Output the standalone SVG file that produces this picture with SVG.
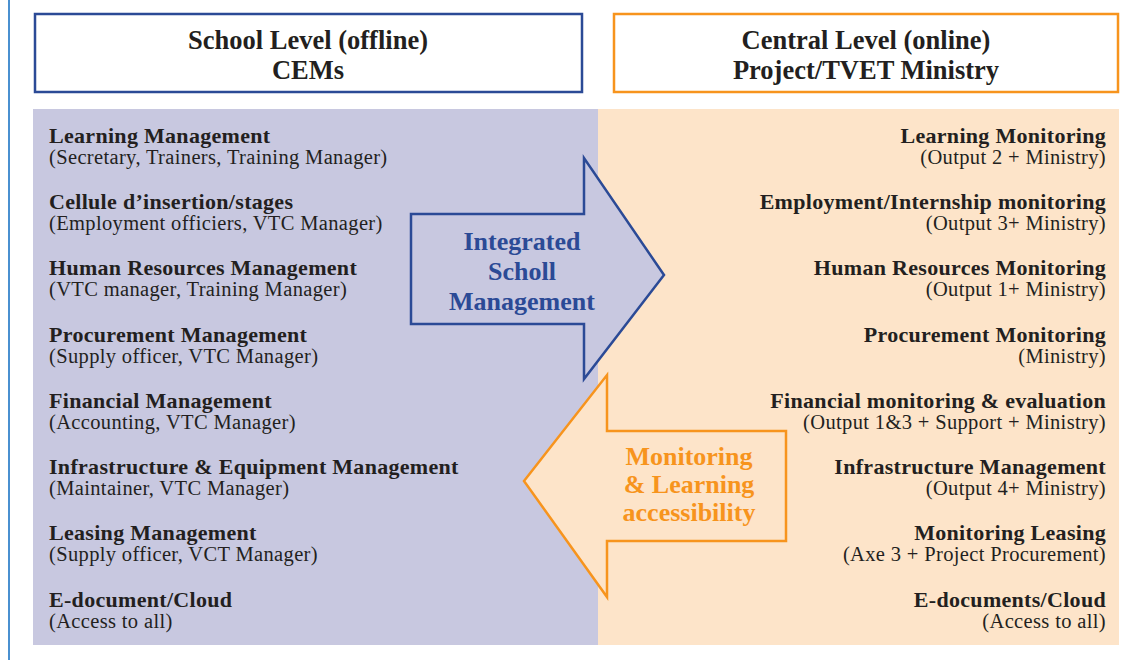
<svg xmlns="http://www.w3.org/2000/svg" width="1132" height="660" viewBox="0 0 1132 660">
<style>
.t{font-family:"Liberation Serif","Times New Roman",serif;fill:#231F20}
.h{font-size:26.5px;font-weight:bold;text-anchor:middle}
.ti{font-size:22px;font-weight:bold;letter-spacing:0.3px}
.sb{font-size:20.5px;letter-spacing:0.35px}
.r{text-anchor:end}
.at{font-family:"Liberation Serif","Times New Roman",serif;font-size:26px;font-weight:bold;text-anchor:middle}
</style>
<rect width="1132" height="660" fill="#FFFFFF"/>
<line x1="9" y1="0" x2="9" y2="660" stroke="#4A90D0" stroke-width="2"/>

<g id="header-school">
<rect x="35" y="14" width="547" height="78" fill="#FFFFFF" stroke="#2B4A96" stroke-width="2.5"/>
<text class="t h" x="308" y="49">School Level (offline)</text>
<text class="t h" x="308" y="79">CEMs</text>
</g>
<g id="header-central">
<rect x="614" y="14" width="504" height="78" fill="#FFFFFF" stroke="#F7941D" stroke-width="2.5"/>
<text class="t h" x="866" y="49">Central Level (online)</text>
<text class="t h" x="866" y="79">Project/TVET Ministry</text>
</g>

<g id="panel-school">
<rect x="33" y="109" width="565" height="536" fill="#C8C8E0"/>
<g class="t">
<text class="ti" x="49" y="143">Learning Management</text>
<text class="sb" x="49" y="164">(Secretary, Trainers, Training Manager)</text>
<text class="ti" x="49" y="209">Cellule d’insertion/stages</text>
<text class="sb" x="49" y="230">(Employment officiers, VTC Manager)</text>
<text class="ti" x="49" y="275">Human Resources Management</text>
<text class="sb" x="49" y="296">(VTC manager, Training Manager)</text>
<text class="ti" x="49" y="342">Procurement Management</text>
<text class="sb" x="49" y="363">(Supply officer, VTC Manager)</text>
<text class="ti" x="49" y="408">Financial Management</text>
<text class="sb" x="49" y="429">(Accounting, VTC Manager)</text>
<text class="ti" x="49" y="474">Infrastructure &amp; Equipment Management</text>
<text class="sb" x="49" y="495">(Maintainer, VTC Manager)</text>
<text class="ti" x="49" y="540">Leasing Management</text>
<text class="sb" x="49" y="561">(Supply officer, VCT Manager)</text>
<text class="ti" x="49" y="607">E-document/Cloud</text>
<text class="sb" x="49" y="628">(Access to all)</text>
</g>
</g>

<g id="panel-central">
<rect x="598" y="109" width="521" height="536" fill="#FDE4C9"/>
<g class="t r">
<text class="ti r" x="1106" y="143">Learning Monitoring</text>
<text class="sb r" x="1106" y="164">(Output 2 + Ministry)</text>
<text class="ti r" x="1106" y="209">Employment/Internship monitoring</text>
<text class="sb r" x="1106" y="230">(Output 3+ Ministry)</text>
<text class="ti r" x="1106" y="275">Human Resources Monitoring</text>
<text class="sb r" x="1106" y="296">(Output 1+ Ministry)</text>
<text class="ti r" x="1106" y="342">Procurement Monitoring</text>
<text class="sb r" x="1106" y="363">(Ministry)</text>
<text class="ti r" x="1106" y="408">Financial monitoring &amp; evaluation</text>
<text class="sb r" x="1106" y="429">(Output 1&amp;3 + Support + Ministry)</text>
<text class="ti r" x="1106" y="474">Infrastructure Management</text>
<text class="sb r" x="1106" y="495">(Output 4+ Ministry)</text>
<text class="ti r" x="1106" y="540">Monitoring Leasing</text>
<text class="sb r" x="1106" y="561">(Axe 3 + Project Procurement)</text>
<text class="ti r" x="1106" y="607">E-documents/Cloud</text>
<text class="sb r" x="1106" y="628">(Access to all)</text>
</g>
</g>

<g id="connectors">
<g id="arrow-integrated">
<polygon points="411,214 584,214 584,158 664,275 584,379 584,324 411,324" fill="#C8C8E0" stroke="#2B4A96" stroke-width="2.5" stroke-linejoin="miter"/>
<text class="at" x="522" y="250" fill="#2B4A96">Integrated</text>
<text class="at" x="522" y="280" fill="#2B4A96">Scholl</text>
<text class="at" x="522" y="310" fill="#2B4A96">Management</text>
</g>
<g id="arrow-monitoring">
<polygon points="786,431 607,431 607,375 524,481 607,597 607,541 786,541" fill="#FDE4C9" stroke="#F7941D" stroke-width="2.5" stroke-linejoin="miter"/>
<text class="at" x="689" y="465" fill="#F7941D">Monitoring</text>
<text class="at" x="689" y="493" fill="#F7941D">&amp; Learning</text>
<text class="at" x="689" y="521" fill="#F7941D">accessibility</text>
</g>
</g>
</svg>
